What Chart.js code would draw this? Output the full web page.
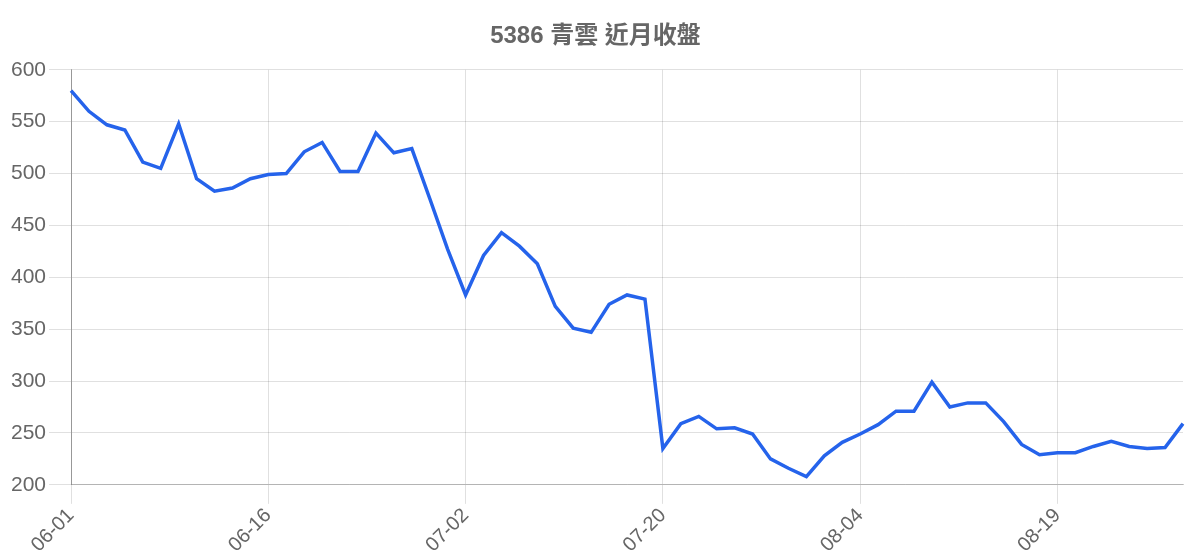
<!DOCTYPE html>
<html>
<head>
<meta charset="utf-8">
<script src="https://cdn.jsdelivr.net/npm/chart.js@4"></script>
<style>
html,body{margin:0;padding:0;background:#fff;}
#wrap{width:1200px;height:560px;}
</style>
</head>
<body>
<div id="wrap"><canvas id="c" width="1200" height="560"></canvas></div>
<script>
const titleText = '5386 青雲 近月收盤';
const dates = [
 '06-01','06-02','06-03','06-04','06-05','06-08','06-09','06-10','06-11','06-12','06-15',
 '06-16','06-17','06-18','06-19','06-22','06-23','06-24','06-25','06-26','06-29','06-30',
 '07-02','07-03','07-06','07-07','07-08','07-09','07-10','07-13','07-14','07-15','07-16',
 '07-20','07-21','07-22','07-23','07-24','07-27','07-28','07-29','07-30','07-31','08-03',
 '08-04','08-05','08-06','08-07','08-10','08-11','08-12','08-13','08-14','08-17','08-18',
 '08-19','08-20','08-21','08-24','08-25','08-26','08-27','08-28'
];
const closes = [
 580,560,547,542,511,505,548,495,483,486,495,
 499,500,521,530,502,502,539,520,524,476,427,
 383,421,443,430,413,372,351,347,374,383,379,
 235,259,266,254,255,249,225,216,208,228,241,
 249,258,271,271,299,275,279,279,261,239,229,
 231,231,237,242,237,235,236,259
];
const shownTickEvery = 11;
const yMin = 200, yMax = 600, yStep = 50;

Chart.defaults.font.family = "'Liberation Sans', Arial, 'Noto Sans CJK TC', sans-serif";
Chart.defaults.color = '#666';

new Chart(document.getElementById('c'), {
  type: 'line',
  data: {
    labels: dates,
    datasets: [{
      label: '收盤',
      data: closes,
      borderColor: '#2563eb',
      backgroundColor: '#2563eb',
      borderWidth: 3.5,
      pointRadius: 0,
      tension: 0,
      fill: false
    }]
  },
  options: {
    responsive: false,
    animation: false,
    layout: { padding: { top: 10, right: 17, left: 8, bottom: 3 } },
    plugins: {
      legend: { display: false },
      title: {
        display: true,
        text: titleText,
        color: '#666',
        font: { size: 24, weight: 'bold', family: "'Liberation Sans', Arial, 'Noto Sans CJK TC', sans-serif" },
        padding: { top: 12, bottom: 19 }
      },
      tooltip: { enabled: false }
    },
    scales: {
      x: {
        grid: {
          color: (ctx) => (ctx.index % shownTickEvery === 0 ? 'rgba(0,0,0,0.12)' : 'rgba(0,0,0,0)'),
          tickLength: 19
        },
        border: { color: 'rgba(0,0,0,0.2)' },
        ticks: {
          autoSkip: false,
          maxRotation: 45,
          minRotation: 45,
          font: { size: 20 },
          color: '#666',
          padding: 0,
          callback: function(v, i) { return i % shownTickEvery === 0 ? dates[i] : ''; }
        }
      },
      y: {
        min: yMin,
        max: yMax,
        grid: { color: 'rgba(0,0,0,0.12)', tickLength: 22 },
        border: { color: 'rgba(0,0,0,0.32)' },
        ticks: { stepSize: yStep, font: { size: 21 }, color: '#666', padding: 3 }
      }
    }
  }
});
</script>
</body>
</html>
